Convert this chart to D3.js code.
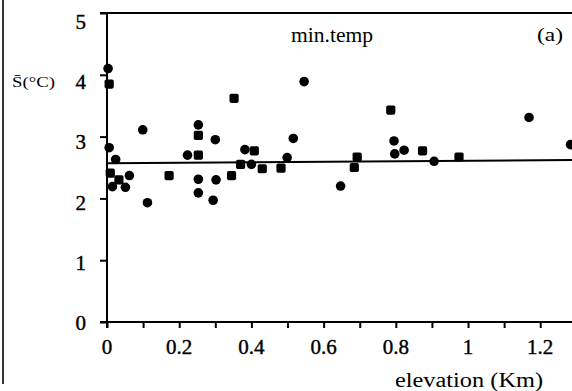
<!DOCTYPE html>
<html>
<head>
<meta charset="utf-8">
<script src="https://cdn.jsdelivr.net/npm/d3@7"></script>
<style>
  body { margin: 0; background: #fff; }
  svg { display: block; }
</style>
</head>
<body>
<div id="chart"></div>
<script>
// elevation (km), S-bar (deg C), marker kind (0 = dot, 1 = square)
var elevation = [0.003, 0.006, 0.099, 0.253, 0.253, 0.006, 0.024, 0.223, 0.253, 0.009,
  0.033, 0.062, 0.015, 0.051, 0.172, 0.253, 0.253, 0.112,
  0.546, 0.352, 0.300, 0.516, 0.382, 0.408, 0.499, 0.370, 0.400, 0.430,
  0.482, 0.345, 0.302, 0.294,
  0.786, 0.795, 0.823, 0.797, 0.874, 0.693, 0.906, 0.685, 0.647,
  0.975, 1.169, 1.284];
var sValue = [4.10, 3.85, 3.11, 3.19, 3.02, 2.82, 2.63, 2.70, 2.70, 2.41,
  2.30, 2.37, 2.19, 2.18, 2.37, 2.31, 2.09, 1.93,
  3.89, 3.62, 2.95, 2.97, 2.79, 2.77, 2.66, 2.55, 2.55, 2.48,
  2.49, 2.37, 2.30, 1.97,
  3.43, 2.93, 2.78, 2.72, 2.77, 2.67, 2.60, 2.50, 2.20,
  2.67, 3.31, 2.87];
var marker = [0, 1, 0, 0, 1, 0, 0, 0, 1, 1,
  1, 0, 0, 0, 1, 0, 0, 0,
  0, 1, 0, 0, 0, 1, 0, 1, 0, 1,
  1, 1, 0, 0,
  1, 0, 0, 0, 1, 1, 0, 1, 0,
  1, 0, 0];

// fitted line end points [elevation, S]
var fitX = [0, 1.29];
var fitY = [2.57, 2.62];

var xTicks = [0, 0.2, 0.4, 0.6, 0.8, 1, 1.2];
var xTickLabels = ['0', '0.2', '0.4', '0.6', '0.8', '1', '1.2'];
var xMinor = [0.1, 0.3, 0.5, 0.7, 0.9, 1.1];
var yTicks = [0, 1, 2, 3, 4, 5];

var width = 572, height = 391;
var serif = '"Liberation Serif", "Times New Roman", serif';

var svg = d3.select('#chart').append('svg')
  .attr('width', width)
  .attr('height', height)
  .attr('font-family', serif);

var x = d3.scaleLinear().domain([0, 1.288]).range([107, 572]);
var y = d3.scaleLinear().domain([0, 5]).range([322, 13]);
// tick labels sit a little lower than their ticks in the original
var yLab = d3.scaleLinear().domain([0, 5]).range([330, 29]);

// figure frame on the left
svg.append('line')
  .attr('x1', 3).attr('x2', 3).attr('y1', 0).attr('y2', 384)
  .attr('stroke', '#000').attr('stroke-width', 1.6);

// top border
svg.append('line')
  .attr('x1', x(0) - 7).attr('x2', width)
  .attr('y1', y(5)).attr('y2', y(5))
  .attr('stroke', '#000').attr('stroke-width', 2);

// y axis
var yAxis = d3.axisLeft(y).tickValues(yTicks).tickSize(7).tickSizeOuter(0).tickFormat('');
var gy = svg.append('g').attr('transform', 'translate(' + x(0) + ',0)').call(yAxis);
gy.select('.domain').attr('stroke-width', 2).attr('d', 'M0,' + y(5) + 'V' + (y(0) + 6));
gy.selectAll('.tick line').attr('stroke-width', 2);

svg.selectAll('.ylab').data(yTicks).enter().append('text')
  .attr('class', 'ylab')
  .attr('x', 86)
  .attr('y', function(d) { return yLab(d); })
  .attr('text-anchor', 'end')
  .attr('font-family', serif)
  .attr('font-size', 21)
  .attr('stroke', '#000').attr('stroke-width', 0.4)
  .text(function(d) { return d; });

// x axis
var xAxis = d3.axisBottom(x).tickValues(xTicks.concat(xMinor)).tickSize(6).tickSizeOuter(0).tickFormat('');
var gx = svg.append('g').attr('transform', 'translate(0,' + y(0) + ')').call(xAxis);
gx.select('.domain').attr('stroke-width', 2).attr('d', 'M' + (x(0) - 7) + ',0H' + width);
gx.selectAll('.tick line').attr('stroke-width', 2);

svg.selectAll('.xlab').data(xTicks).enter().append('text')
  .attr('class', 'xlab')
  .attr('x', function(d) { return x(d); })
  .attr('y', 354)
  .attr('text-anchor', 'middle')
  .attr('font-family', serif)
  .attr('font-size', 21)
  .attr('stroke', '#000').attr('stroke-width', 0.4)
  .text(function(d, i) { return xTickLabels[i]; });

// fitted line
svg.append('line')
  .attr('x1', x(fitX[0])).attr('y1', y(fitY[0]))
  .attr('x2', x(fitX[1])).attr('y2', y(fitY[1]))
  .attr('stroke', '#000').attr('stroke-width', 2);

// points
var pts = elevation.map(function(e, i) {
  return { e: e, s: sValue[i], m: marker[i] };
});

svg.selectAll('.dot').data(pts.filter(function(d) { return d.m === 0; }))
  .enter().append('circle')
  .attr('class', 'dot')
  .attr('cx', function(d) { return x(d.e); })
  .attr('cy', function(d) { return y(d.s); })
  .attr('r', 4.8)
  .attr('fill', '#000');

svg.selectAll('.sq').data(pts.filter(function(d) { return d.m === 1; }))
  .enter().append('rect')
  .attr('class', 'sq')
  .attr('x', function(d) { return x(d.e) - 4.6; })
  .attr('y', function(d) { return y(d.s) - 4.6; })
  .attr('width', 9.2).attr('height', 9.2)
  .attr('rx', 1.8)
  .attr('fill', '#000');

// texts
svg.append('text')
  .attr('x', 291).attr('y', 42)
  .attr('font-size', 21)
  .attr('textLength', 82).attr('lengthAdjust', 'spacingAndGlyphs')
  .text('min.temp');

svg.append('text')
  .attr('x', 537).attr('y', 41)
  .attr('textLength', 26).attr('lengthAdjust', 'spacingAndGlyphs')
  .attr('font-size', 19)
  .text('(a)');

svg.append('text')
  .attr('x', 12).attr('y', 87)
  .attr('textLength', 43).attr('lengthAdjust', 'spacingAndGlyphs')
  .attr('font-size', 15)
  .text('S\u0304(\u00b0C)');

svg.append('text')
  .attr('x', 395).attr('y', 387)
  .attr('textLength', 148).attr('lengthAdjust', 'spacingAndGlyphs')
  .attr('font-size', 20)
  .text('elevation (Km)');
</script>
</body>
</html>
